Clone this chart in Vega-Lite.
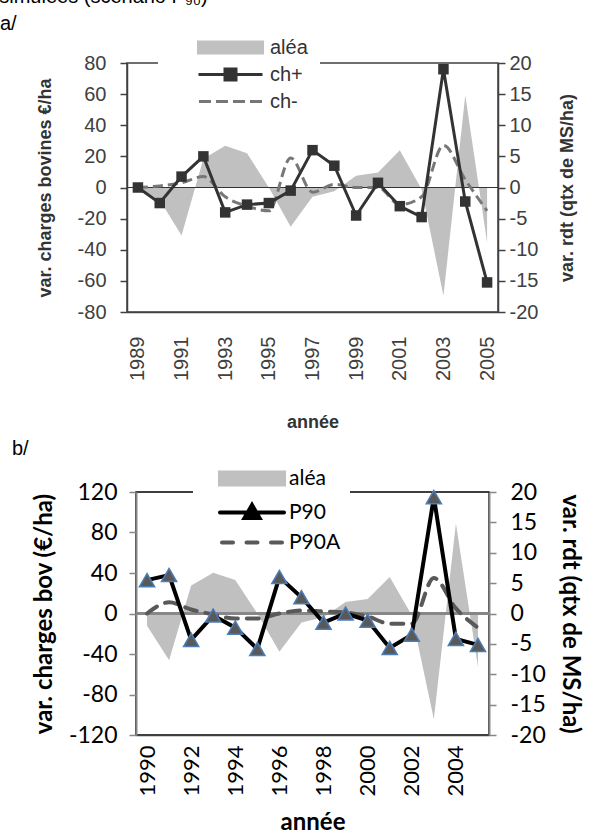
{
  "$schema": "https://vega.github.io/schema/vega-lite/v6.json",
  "autosize": {"type": "none"},
  "padding": {"top": 63, "left": 127, "right": 476, "bottom": 771},
  "background": "white",
  "title": {"text": "simulées (scénario P₉₀)", "anchor": "start", "frame": "bounds", "font": "Liberation Sans", "fontSize": 20, "fontWeight": "normal", "color": "#000000", "offset": 6},
  "align": "all",
  "bounds": "flush",
  "center": true,
  "spacing": 180,
  "resolve": {"scale": {"color": "independent"}, "legend": {"color": "independent"}},
  "config": {"view": {"stroke": null}, "axis": {"grid": false, "labelOverlap": false}},
  "vconcat": [
    {
      "width": 371,
      "height": 249,
      "title": {"text": "a/", "anchor": "start", "frame": "group", "dx": -127, "dy": 6, "font": "Liberation Sans", "fontSize": 20, "fontWeight": "normal", "color": "#000000", "offset": 2},
      "view": {"stroke": "#404040", "strokeWidth": 1.5},
      "data": {"values": [
        {"annee": 1989, "alea": 0, "chp": 0, "chm": 0},
        {"annee": 1990, "alea": -2, "chp": -10, "chm": 1},
        {"annee": 1991, "alea": -7.7, "chp": 7, "chm": 3},
        {"annee": 1992, "alea": 4.6, "chp": 20, "chm": 7},
        {"annee": 1993, "alea": 6.7, "chp": -16, "chm": -6},
        {"annee": 1994, "alea": 5.5, "chp": -11, "chm": -12},
        {"annee": 1995, "alea": 0, "chp": -10, "chm": -15},
        {"annee": 1996, "alea": -6.3, "chp": -2, "chm": 19},
        {"annee": 1997, "alea": -1.5, "chp": 24, "chm": -3},
        {"annee": 1998, "alea": -0.6, "chp": 14, "chm": 2},
        {"annee": 1999, "alea": 1.9, "chp": -18, "chm": 0},
        {"annee": 2000, "alea": 2.4, "chp": 3, "chm": 0},
        {"annee": 2001, "alea": 6, "chp": -12, "chm": -11},
        {"annee": 2002, "alea": -0.3, "chp": -19, "chm": -6},
        {"annee": 2003, "alea": -17.4, "chp": 76, "chm": 27},
        {"annee": 2004, "alea": 14.8, "chp": -9, "chm": 5},
        {"annee": 2005, "alea": -8.8, "chp": -61, "chm": -15}
      ]},
      "resolve": {"scale": {"y": "independent"}},
      "layer": [
        {
          "mark": {"type": "area", "interpolate": "linear"},
          "encoding": {
            "x": {"field": "annee", "type": "ordinal", "title": "année", "scale": {"type": "point", "padding": 0.5},
              "axis": {"values": [1989, 1991, 1993, 1995, 1997, 1999, 2001, 2003, 2005], "labelAngle": -90, "ticks": false, "tickSize": 0, "labelPadding": 24, "labelFont": "Liberation Sans", "labelFontSize": 20, "labelColor": "#404040", "domainColor": "#404040", "domainWidth": 1.5, "titleFont": "Liberation Sans", "titleFontSize": 18, "titleFontWeight": "bold", "titleColor": "#333333", "titlePadding": 33}},
            "y": {"field": "alea", "type": "quantitative", "title": "var. rdt (qtx de MS/ha)", "scale": {"domain": [-20, 20], "nice": false, "zero": true},
              "axis": {"orient": "right", "values": [-20, -15, -10, -5, 0, 5, 10, 15, 20], "labelExpr": "replace(datum.label, '−', '-')", "tickSize": 7, "tickColor": "#404040", "tickWidth": 1.5, "domainColor": "#404040", "domainWidth": 1.5, "labelPadding": 4, "labelFont": "Liberation Sans", "labelFontSize": 20, "labelColor": "#404040", "titleFont": "Liberation Sans", "titleFontSize": 18, "titleFontWeight": "bold", "titleColor": "#333333", "titleAngle": 270, "titleBaseline": "top", "titlePadding": 21}},
            "color": {"datum": "aléa", "type": "nominal",
              "scale": {"domain": ["aléa", "ch+", "ch-"], "range": ["#c0c0c0", "#333333", "#777777"]},
              "legend": {"orient": "none", "legendX": 31, "legendY": -33, "title": "  ", "titleOrient": "right", "titleFontSize": 10, "titlePadding": 6, "fillColor": "white", "padding": 6, "symbolSize": 400, "symbolOffset": 55, "labelOffset": 28, "rowPadding": 4, "labelFont": "Liberation Sans", "labelFontSize": 20, "labelColor": "#333333",
                "encode": {"symbols": {"update": {
                  "shape": {"signal": "datum.value === 'aléa' ? 'M-3.2,-0.55H3.2V0.55H-3.2Z' : datum.value === 'ch+' ? 'M-3.2,0H3.2M-0.55,-0.55H0.55V0.55H-0.55Z' : 'M-3.15,0H-1.95M-1.45,0H-0.25M0.25,0H1.45M1.95,0H3.15'"},
                  "fill": {"signal": "datum.value === 'ch-' ? 'transparent' : datum.value === 'aléa' ? '#c0c0c0' : '#333333'"},
                  "stroke": {"signal": "datum.value === 'aléa' ? 'transparent' : datum.value === 'ch+' ? '#333333' : '#777777'"},
                  "strokeWidth": {"value": 3},
                  "opacity": {"value": 1}
                }}}}}
          }
        },
        {
          "layer": [
            {
              "mark": {"type": "rule", "color": "#333333", "strokeWidth": 1.2},
              "encoding": {"y": {"datum": 0, "type": "quantitative", "title": "var. charges bovines €/ha", "scale": {"domain": [-80, 80], "nice": false},
                "axis": {"orient": "left", "values": [-80, -60, -40, -20, 0, 20, 40, 60, 80], "labelExpr": "replace(datum.label, '−', '-')", "tickSize": 7, "tickColor": "#404040", "tickWidth": 1.5, "domainColor": "#404040", "domainWidth": 1.5, "labelPadding": 14, "labelFont": "Liberation Sans", "labelFontSize": 20, "labelColor": "#404040", "titleFont": "Liberation Sans", "titleFontSize": 18, "titleFontWeight": "bold", "titleColor": "#333333", "titlePadding": 23}}}
            },
            {
              "mark": {"type": "line", "interpolate": "monotone", "strokeWidth": 3, "strokeDash": [10, 5]},
              "encoding": {
                "x": {"field": "annee", "type": "ordinal", "title": "année", "scale": {"type": "point", "padding": 0.5}},
                "y": {"field": "chm", "type": "quantitative", "title": "var. charges bovines €/ha", "axis": {"values": [-80, -60, -40, -20, 0, 20, 40, 60, 80]}},
                "color": {"datum": "ch-", "type": "nominal"}
              }
            },
            {
              "mark": {"type": "line", "strokeWidth": 3},
              "encoding": {
                "x": {"field": "annee", "type": "ordinal", "title": "année", "scale": {"type": "point", "padding": 0.5}},
                "y": {"field": "chp", "type": "quantitative", "title": "var. charges bovines €/ha", "axis": {"values": [-80, -60, -40, -20, 0, 20, 40, 60, 80]}},
                "color": {"datum": "ch+", "type": "nominal"}
              }
            },
            {
              "mark": {"type": "point", "shape": "square", "filled": true, "size": 110, "opacity": 1},
              "encoding": {
                "x": {"field": "annee", "type": "ordinal", "title": "année", "scale": {"type": "point", "padding": 0.5}},
                "y": {"field": "chp", "type": "quantitative", "title": "var. charges bovines €/ha", "axis": {"values": [-80, -60, -40, -20, 0, 20, 40, 60, 80]}},
                "color": {"datum": "ch+", "type": "nominal"}
              }
            }
          ]
        }
      ]
    },
    {
      "width": 353,
      "height": 243,
      "title": {"text": "b/", "anchor": "start", "frame": "group", "dx": -124, "font": "Liberation Sans", "fontSize": 20, "fontWeight": "normal", "color": "#000000", "offset": 2},
      "view": {"stroke": "#000000", "strokeWidth": 1.5},
      "data": {"values": [
        {"annee": 1990, "alea": -2, "p90": 33, "p90a": 0},
        {"annee": 1991, "alea": -7.7, "p90": 38, "p90a": 11},
        {"annee": 1992, "alea": 4.6, "p90": -26, "p90a": 4},
        {"annee": 1993, "alea": 6.7, "p90": -2, "p90a": -1},
        {"annee": 1994, "alea": 5.5, "p90": -14, "p90a": -5},
        {"annee": 1995, "alea": 0, "p90": -35, "p90a": -5},
        {"annee": 1996, "alea": -6.3, "p90": 36, "p90a": 0},
        {"annee": 1997, "alea": -1.5, "p90": 16, "p90a": 3},
        {"annee": 1998, "alea": -0.6, "p90": -9, "p90a": 2},
        {"annee": 1999, "alea": 1.9, "p90": 0, "p90a": 1},
        {"annee": 2000, "alea": 2.4, "p90": -7, "p90a": -3},
        {"annee": 2001, "alea": 6, "p90": -34, "p90a": -10},
        {"annee": 2002, "alea": -0.3, "p90": -21, "p90a": -10},
        {"annee": 2003, "alea": -17.4, "p90": 115, "p90a": 35},
        {"annee": 2004, "alea": 14.8, "p90": -25, "p90a": 5},
        {"annee": 2005, "alea": -8.8, "p90": -31, "p90a": -14}
      ]},
      "resolve": {"scale": {"y": "independent"}},
      "layer": [
        {
          "mark": {"type": "area", "interpolate": "linear"},
          "encoding": {
            "x": {"field": "annee", "type": "ordinal", "title": "année", "scale": {"type": "point", "padding": 0.5},
              "axis": {"values": [1990, 1992, 1994, 1996, 1998, 2000, 2002, 2004], "labelAngle": -90, "ticks": false, "tickSize": 0, "labelPadding": 10, "labelFont": "Lato", "labelFontSize": 22, "labelColor": "#000000", "domainColor": "#404040", "domainWidth": 1.5, "titleFont": "Lato", "titleFontSize": 24, "titleFontWeight": "bold", "titleColor": "#000000", "titlePadding": 14}},
            "y": {"field": "alea", "type": "quantitative", "title": "var. rdt (qtx de MS/ha)", "scale": {"domain": [-20, 20], "nice": false, "zero": true},
              "axis": {"orient": "right", "values": [-20, -15, -10, -5, 0, 5, 10, 15, 20], "labelExpr": "replace(datum.label, '−', '-')", "tickSize": 7, "tickColor": "#868686", "tickWidth": 1.5, "domainColor": "#868686", "domainWidth": 2, "labelPadding": 14, "labelFont": "Lato", "labelFontSize": 23, "labelColor": "#000000", "titleFont": "Lato", "titleFontSize": 24, "titleFontWeight": "bold", "titleColor": "#000000", "titleAngle": 90, "titlePadding": 12}},
            "color": {"datum": "aléa", "type": "nominal",
              "scale": {"domain": ["aléa", "P90", "P90A"], "range": ["#c0c0c0", "#000000", "#595959"]},
              "legend": {"orient": "none", "legendX": 57, "legendY": -31.5, "title": " ", "titleOrient": "right", "titleFontSize": 8, "titlePadding": 4, "fillColor": "white", "padding": 6, "symbolSize": 400, "symbolOffset": 41, "labelOffset": 25, "rowPadding": 4, "labelFont": "Lato", "labelFontSize": 21, "labelColor": "#000000",
                "encode": {"symbols": {"update": {
                  "shape": {"signal": "datum.value === 'aléa' ? 'M-3.2,-0.6H3.2V0.6H-3.2Z' : datum.value === 'P90' ? 'M-3.2,0H3.2M0,-0.75L0.75,0.55H-0.75Z' : 'M-3.0,0H-1.9M-0.55,0H0.55M1.9,0H3.0'"},
                  "fill": {"signal": "datum.value === 'P90A' ? 'transparent' : datum.value === 'aléa' ? '#c0c0c0' : '#595959'"},
                  "stroke": {"signal": "datum.value === 'aléa' ? 'transparent' : datum.value === 'P90' ? '#000000' : '#595959'"},
                  "strokeWidth": {"value": 4},
                  "strokeCap": {"value": "round"},
                  "opacity": {"value": 1}
                }}}}}
          }
        },
        {
          "layer": [
            {
              "mark": {"type": "rule", "color": "#868686", "strokeWidth": 1.5},
              "encoding": {"y": {"datum": 0, "type": "quantitative", "title": "var. charges bov (€/ha)", "scale": {"domain": [-120, 120], "nice": false},
                "axis": {"orient": "left", "values": [-120, -80, -40, 0, 40, 80, 120], "labelExpr": "replace(datum.label, '−', '-')", "tickSize": 7, "tickColor": "#868686", "tickWidth": 1.5, "domainColor": "#868686", "domainWidth": 2, "labelPadding": 12, "labelFont": "Lato", "labelFontSize": 23, "labelColor": "#000000", "titleFont": "Lato", "titleFontSize": 24, "titleFontWeight": "bold", "titleColor": "#000000", "titlePadding": 12}}}
            },
            {
              "mark": {"type": "line", "interpolate": "monotone", "strokeWidth": 4, "strokeDash": [12, 9], "strokeCap": "round"},
              "encoding": {
                "x": {"field": "annee", "type": "ordinal", "title": "année", "scale": {"type": "point", "padding": 0.5}},
                "y": {"field": "p90a", "type": "quantitative", "title": "var. charges bov (€/ha)", "axis": {"values": [-120, -80, -40, 0, 40, 80, 120]}},
                "color": {"datum": "P90A", "type": "nominal"}
              }
            },
            {
              "mark": {"type": "line", "strokeWidth": 4},
              "encoding": {
                "x": {"field": "annee", "type": "ordinal", "title": "année", "scale": {"type": "point", "padding": 0.5}},
                "y": {"field": "p90", "type": "quantitative", "title": "var. charges bov (€/ha)", "axis": {"values": [-120, -80, -40, 0, 40, 80, 120]}},
                "color": {"datum": "P90", "type": "nominal"}
              }
            },
            {
              "mark": {"type": "point", "shape": "triangle-up", "filled": true, "size": 230, "opacity": 1, "stroke": "#4a7ebb", "strokeWidth": 1.5, "fill": "#595959"},
              "encoding": {
                "x": {"field": "annee", "type": "ordinal", "title": "année", "scale": {"type": "point", "padding": 0.5}},
                "y": {"field": "p90", "type": "quantitative", "title": "var. charges bov (€/ha)", "axis": {"values": [-120, -80, -40, 0, 40, 80, 120]}}
              }
            }
          ]
        }
      ]
    }
  ]
}
